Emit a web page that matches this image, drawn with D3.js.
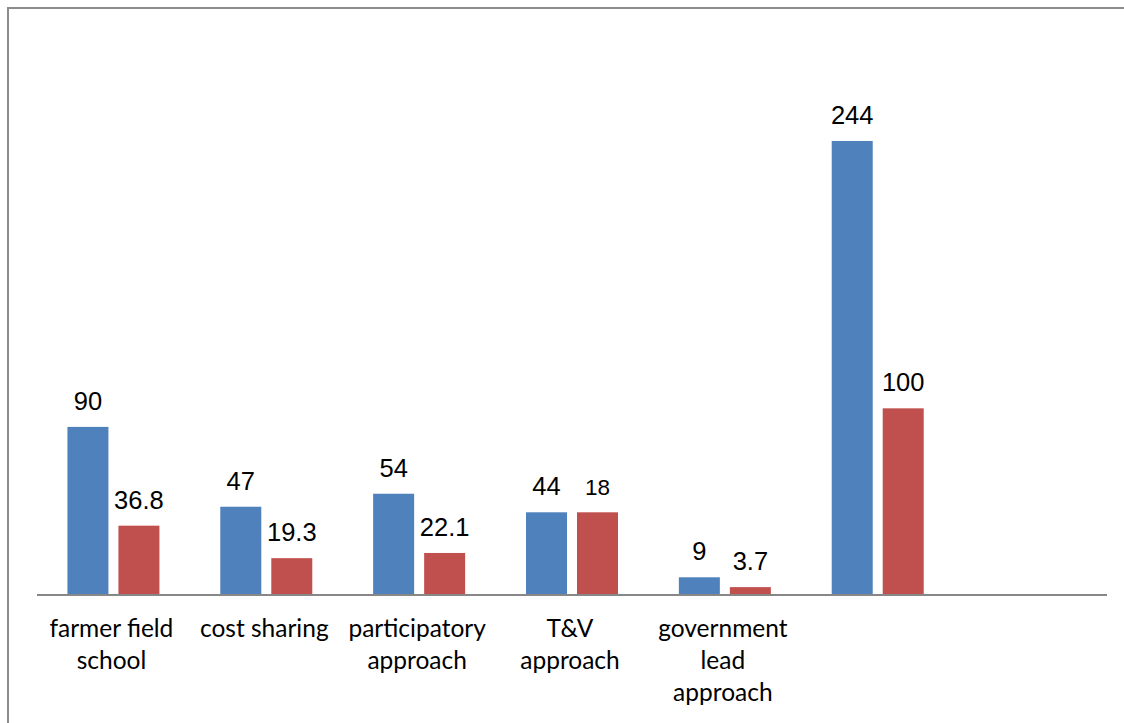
<!DOCTYPE html>
<html><head><meta charset="utf-8">
<script src="https://cdn.jsdelivr.net/npm/d3@7"></script>
<style>html,body{margin:0;padding:0;background:#fff;}svg{display:block;}</style>
</head><body>
<svg id="chart" width="1124" height="723"></svg>
<script>
const categories = ["farmer field\nschool", "cost sharing", "participatory\napproach", "T&V\napproach", "government\nlead\napproach", "", " "];
const seriesNames = ["count", "percent"];
const countValues = [90, 47, 54, 44, 9, 244, null];
const countLabels = ["90", "47", "54", "44", "9", "244", ""];
// bar heights as drawn in the reference (T&V red bar is drawn at the same height as the blue one)
const percentValues = [36.8, 19.3, 22.1, 44, 3.7, 100, null];
const percentLabels = ["36.8", "19.3", "22.1", "18", "3.7", "100", ""];
const colors = ["#4F81BD", "#C0504D"];

const svg = d3.select("#chart");
const W = 1124, H = 723;
const left = 37, right = 1107, baseY = 594, topY = 37;

// frame (cropped on right and bottom)
svg.append("rect").attr("x", 8).attr("y", 8).attr("width", W + 10).attr("height", H + 10)
  .attr("fill", "#fff").attr("stroke", "#8c8c8c").attr("stroke-width", 2);

const x0 = d3.scaleBand().domain(categories).range([left, right]);
const groupW = 92;
const x1 = d3.scaleBand().domain(seriesNames).range([0, groupW]).paddingInner(2 - groupW / 51);
const y = d3.scaleLinear().domain([0, 300]).range([baseY, topY]);

const data = categories.map((c, i) => ({cat: c, vals: [countValues[i], percentValues[i]], labs: [countLabels[i], percentLabels[i]]}));

const g = svg.append("g");
data.forEach(d => {
  const gx = x0(d.cat) + (x0.bandwidth() - groupW) / 2;
  d.vals.forEach((v, j) => {
    if (v == null) return;
    const bx = gx + x1(seriesNames[j]);
    g.append("rect").attr("x", bx).attr("y", y(v)).attr("width", x1.bandwidth())
      .attr("height", baseY - y(v)).attr("fill", colors[j]);
    const lab = d.labs[j];
    g.append("text").attr("x", bx + x1.bandwidth() / 2).attr("y", y(v) - 17)
      .attr("text-anchor", "middle")
      .attr("font-family", "'Liberation Sans', Arial, sans-serif")
      .attr("font-size", lab === "18" ? 22.5 : 25.5).attr("fill", "#000").text(lab);
  });
});

// x axis line
svg.append("line").attr("x1", left).attr("x2", right).attr("y1", baseY + 1).attr("y2", baseY + 1)
  .attr("stroke", "#878787").attr("stroke-width", 2);

// category labels
const xAxis = svg.append("g").attr("transform", `translate(0,${baseY})`)
  .call(d3.axisBottom(x0).tickSize(0).tickFormat(""));
xAxis.select(".domain").remove();
xAxis.selectAll(".tick").each(function(d) {
  const t = d3.select(this).append("text").attr("text-anchor", "middle")
    .attr("font-family", "Lato, 'Open Sans', sans-serif").attr("font-size", 24.5).attr("fill", "#000");
  d.split("\n").forEach((line, i) => {
    t.append("tspan").attr("x", -2).attr("y", 43 + i * 32).text(line.trim());
  });
});
</script>
</body></html>
